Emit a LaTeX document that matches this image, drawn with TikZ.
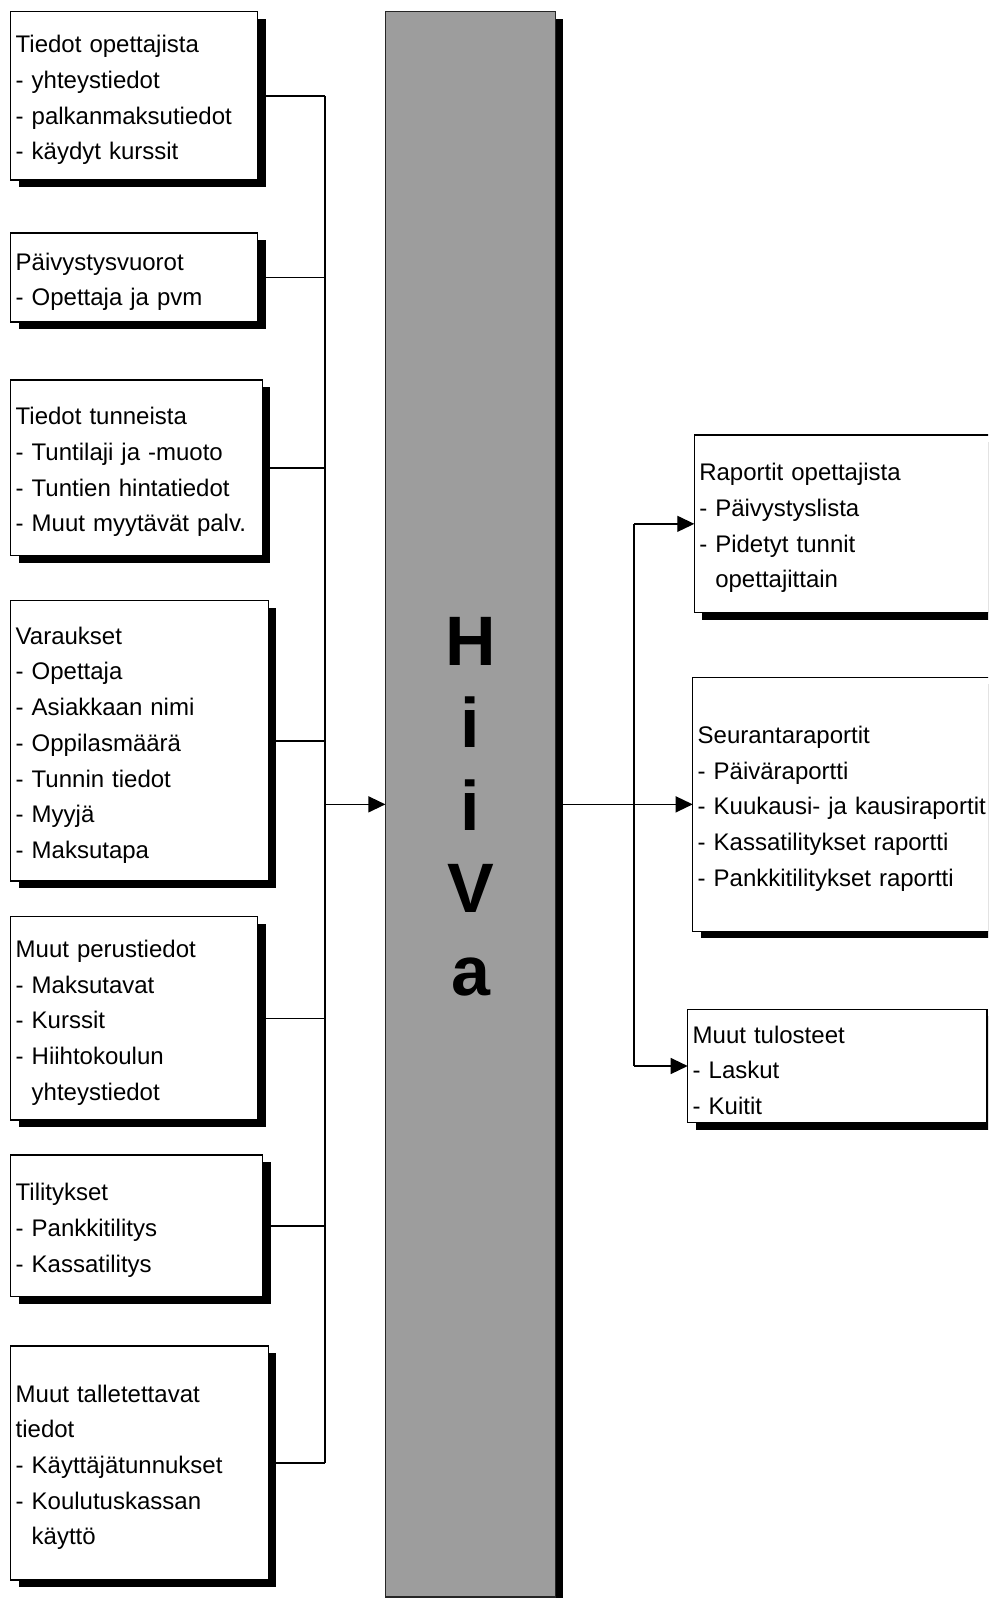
\documentclass[tikz,border=0pt]{standalone}
\usepackage{fontspec}
\setmainfont{Liberation Sans}
\usetikzlibrary{arrows.meta,shadows,backgrounds}
\definecolor{corefill}{RGB}{157,157,157}
\newcommand{\contind}{\hphantom{-\ }}
% taller first line so the text block sits a little lower in its box
\newcommand{\topstrut}{\rule{0pt}{26pt}}

\begin{document}
\begin{tikzpicture}[x=1pt,y=-1pt,
  box/.style={draw=black, line width=1.3pt, fill=white, rectangle,
    anchor=north west, inner xsep=5pt, inner ysep=0pt, outer sep=0pt,
    align=left, font=\fontsize{24}{35.7}\selectfont,
    drop shadow={shadow xshift=8pt, shadow yshift=-7pt, fill=black, opacity=1}},
  link/.style={line width=1.3pt},
  arr/.style={link, -{Triangle[length=17pt,width=16pt]}},
  letter/.style={anchor=base, inner sep=0pt,
    font=\fontsize{70}{70}\bfseries\selectfont}
]
\useasboundingbox (0,0) rectangle (988,1598);
\clip (0,0) rectangle (988,1598);

% input boxes
\node[box, text width=237pt, minimum height=168.3pt] (b1) at (10.7,11.7)
  {\topstrut Tiedot opettajista\\- yhteystiedot\\- palkanmaksutiedot\\- käydyt kurssit};
\node[box, text width=237pt, minimum height=89pt] (b2) at (10.7,233)
  {\topstrut Päivystysvuorot\\- Opettaja ja pvm};
\node[box, text width=241.6pt, minimum height=175.7pt] (b3) at (10.7,380)
  {\topstrut Tiedot tunneista\\- Tuntilaji ja -muoto\\- Tuntien hintatiedot\\- Muut myytävät palv.};
\node[box, text width=247.6pt, minimum height=280.3pt] (b4) at (10.7,600.7)
  {\topstrut Varaukset\\- Opettaja\\- Asiakkaan nimi\\- Oppilasmäärä\\- Tunnin tiedot\\- Myyjä\\- Maksutapa};
\node[box, text width=237pt, minimum height=203.3pt] (b5) at (10.7,916.7)
  {\topstrut Muut perustiedot\\- Maksutavat\\- Kurssit\\- Hiihtokoulun\\\contind yhteystiedot};
\node[box, text width=242pt, minimum height=141.7pt] (b6) at (10.7,1155)
  {\topstrut Tilitykset\\- Pankkitilitys\\- Kassatilitys};
\node[box, text width=247.6pt, minimum height=234pt] (b7) at (10.7,1346)
  {\topstrut Muut talletettavat\\tiedot\\- Käyttäjätunnukset\\- Koulutuskassan\\\contind käyttö};

% central system
\node[draw=black!85, line width=1.3pt, fill=corefill, rectangle,
  anchor=north west, minimum width=170.3pt, minimum height=1585.3pt,
  inner sep=0pt, outer sep=0pt,
  drop shadow={shadow xshift=7.5pt, shadow yshift=-7pt, fill=black, opacity=1}]
  (core) at (385.4,11.7) {};
\node[letter] (lH) at (470.5,665.7) {H};
\node[letter] (lI1) at (470.5,747.7) {i};
\node[letter] (lI2) at (470.5,830) {i};
\node[letter] (lV) at (470.5,912) {V};
\node[letter] (lA) at (470.5,995) {a};

% output boxes
\node[box, text width=296pt, minimum height=177.7pt] (r1) at (694.3,435)
  {\topstrut Raportit opettajista\\- Päivystyslista\\- Pidetyt tunnit\\\contind opettajittain};
\node[box, text width=296pt, minimum height=254pt] (r2) at (692.7,677.3)
  {\topstrut Seurantaraportit\\- Päiväraportti\\- Kuukausi- ja kausiraportit\\- Kassatilitykset raportti\\- Pankkitilitykset raportti};
\node[box, text width=289.3pt, minimum height=113.4pt] (r3) at (687.7,1009.3)
  {\topstrut Muut tulosteet\\- Laskut\\- Kuitit};

% bus lines
\coordinate (lbus) at (325,0);
\coordinate (rbus) at (634,0);

\begin{scope}[on background layer]
  \foreach \b in {b1,b2,b3,b4,b5,b6,b7}
    \draw[link] (\b.east) -- (\b.east -| lbus);
  \draw[link] (b1.east -| lbus) -- (b7.east -| lbus);
  \draw[link] (r1.west -| rbus) -- (r3.west -| rbus);
  \draw[link] (core.east) -- (core.east -| rbus);
\end{scope}

\draw[arr] (core.west -| lbus) -- (core.west);
\draw[arr] (core.east -| rbus) -- (core.east -| r2.west);
\draw[arr] (r1.west -| rbus) -- (r1.west);
\draw[arr] (r3.west -| rbus) -- (r3.west);
\end{tikzpicture}
\end{document}
